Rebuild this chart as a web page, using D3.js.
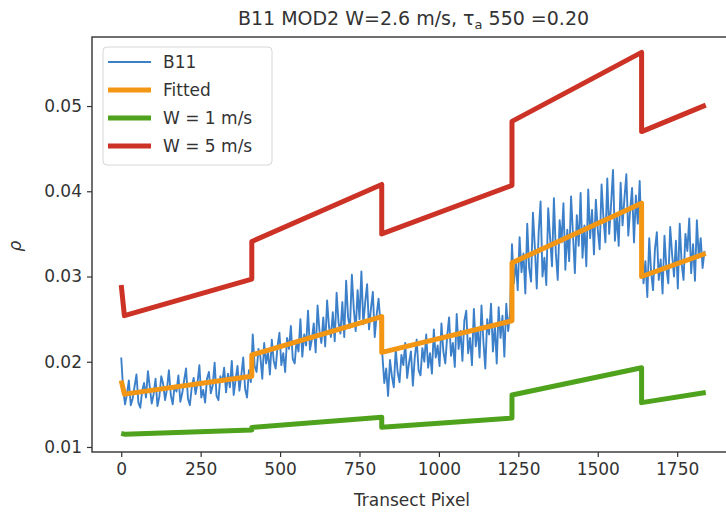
<!DOCTYPE html>
<html>
<head>
<meta charset="utf-8">
<script src="https://cdn.jsdelivr.net/npm/d3@7"></script>
<style>
    body { margin: 0; background: #fff; }
    text { font-family: "DejaVu Sans", sans-serif; fill: #333; }
</style>
</head>
<body>
<svg id="chart"></svg>
<script>
// B11 reflectance along the transect, one value every 6 pixels
const b11Step = 6;
const b11Values = [
    // 0 - 408
    0.0205, 0.0168, 0.0150, 0.0162, 0.0178, 0.0149, 0.0157, 0.0171, 0.0185, 0.0152,
    0.0146, 0.0166, 0.0175, 0.0158, 0.0189, 0.0170, 0.0151, 0.0162, 0.0180, 0.0148,
    0.0159, 0.0183, 0.0174, 0.0155, 0.0168, 0.0190, 0.0161, 0.0150, 0.0172, 0.0165,
    0.0184, 0.0153, 0.0163, 0.0178, 0.0192, 0.0157, 0.0149, 0.0170, 0.0181, 0.0162,
    0.0175, 0.0196, 0.0158, 0.0167, 0.0152, 0.0180, 0.0188, 0.0163, 0.0172, 0.0199,
    0.0160, 0.0155, 0.0183, 0.0176, 0.0193, 0.0164, 0.0186, 0.0170, 0.0201, 0.0161,
    0.0179, 0.0195, 0.0166, 0.0184, 0.0205, 0.0168, 0.0158, 0.0190, 0.0176,
    // 414 - 816
    0.0232, 0.0195, 0.0188, 0.0215, 0.0206, 0.0180, 0.0222, 0.0198, 0.0212, 0.0185,
    0.0226, 0.0201, 0.0192, 0.0218, 0.0234, 0.0196, 0.0210, 0.0188, 0.0228, 0.0215,
    0.0242, 0.0203, 0.0198, 0.0225, 0.0212, 0.0250, 0.0206, 0.0232, 0.0219, 0.0260,
    0.0214, 0.0226, 0.0245, 0.0211, 0.0266, 0.0236, 0.0222, 0.0252, 0.0218, 0.0272,
    0.0241, 0.0229, 0.0258, 0.0224, 0.0281, 0.0246, 0.0233, 0.0270, 0.0229, 0.0295,
    0.0252, 0.0240, 0.0302, 0.0262, 0.0236, 0.0284, 0.0250, 0.0306, 0.0244, 0.0270,
    0.0291, 0.0238, 0.0262, 0.0282, 0.0229, 0.0255, 0.0274, 0.0245,
    // 822 - 1224
    0.0208, 0.0175, 0.0192, 0.0160, 0.0202, 0.0183, 0.0170, 0.0215, 0.0188, 0.0176,
    0.0208, 0.0196, 0.0222, 0.0181, 0.0199, 0.0212, 0.0172, 0.0205, 0.0226, 0.0190,
    0.0184, 0.0216, 0.0200, 0.0232, 0.0193, 0.0210, 0.0186, 0.0238, 0.0205, 0.0219,
    0.0195, 0.0245, 0.0212, 0.0198, 0.0230, 0.0252, 0.0207, 0.0222, 0.0194, 0.0256,
    0.0215, 0.0236, 0.0201, 0.0248, 0.0260, 0.0210, 0.0228, 0.0196, 0.0262, 0.0218,
    0.0240, 0.0205, 0.0266, 0.0224, 0.0192, 0.0250, 0.0232, 0.0268, 0.0212, 0.0244,
    0.0198, 0.0264, 0.0228, 0.0254, 0.0206, 0.0268, 0.0236, 0.0258,
    // 1230 - 1632
    0.0338, 0.0292, 0.0318, 0.0284, 0.0346, 0.0305, 0.0327, 0.0280, 0.0362, 0.0310,
    0.0294, 0.0375, 0.0334, 0.0286, 0.0352, 0.0388, 0.0300, 0.0322, 0.0290, 0.0380,
    0.0345, 0.0312, 0.0392, 0.0328, 0.0296, 0.0366, 0.0340, 0.0386, 0.0308, 0.0355,
    0.0318, 0.0394, 0.0349, 0.0304, 0.0372, 0.0336, 0.0398, 0.0322, 0.0360, 0.0312,
    0.0402, 0.0345, 0.0378, 0.0326, 0.0390, 0.0355, 0.0332, 0.0408, 0.0368, 0.0340,
    0.0415, 0.0350, 0.0385, 0.0425, 0.0342, 0.0372, 0.0336, 0.0410, 0.0360, 0.0392,
    0.0420, 0.0348, 0.0378, 0.0404, 0.0340, 0.0395, 0.0362, 0.0412,
    // 1638 - 1836
    0.0340, 0.0292, 0.0318, 0.0276, 0.0345, 0.0305, 0.0284, 0.0332, 0.0352, 0.0296,
    0.0320, 0.0280, 0.0348, 0.0310, 0.0292, 0.0358, 0.0326, 0.0300, 0.0342, 0.0286,
    0.0362, 0.0315, 0.0296, 0.0350, 0.0330, 0.0368, 0.0304, 0.0338, 0.0295, 0.0366,
    0.0322, 0.0345, 0.0310, 0.0330
];

// vertices of the piecewise model curves (same breakpoints for all three)
const modelX = [0, 10, 411, 411, 820, 820, 1230, 1230, 1638, 1638, 1840];
const fittedValues = [0.0178, 0.0162, 0.0183, 0.0208, 0.0253, 0.0211, 0.0248, 0.0316, 0.0386, 0.0300, 0.0327];
const w1Values = [0.0116, 0.0115, 0.0120, 0.0123, 0.0135, 0.0123, 0.0134, 0.0161, 0.0193, 0.0152, 0.0164];
const w5Values = [0.0290, 0.0254, 0.0297, 0.0341, 0.0408, 0.0350, 0.0407, 0.0482, 0.0563, 0.0470, 0.0501];

const xTicks = [0, 250, 500, 750, 1000, 1250, 1500, 1750];
const yTicks = [0.01, 0.02, 0.03, 0.04, 0.05];

const seriesNames = ['B11', 'Fitted', 'W = 1 m/s', 'W = 5 m/s'];
const seriesColors = ['#3d80ca', '#f39614', '#4fa21c', '#cc3326'];

function drawChart() {
    const width = 726;
    const height = 512;
    const margin = { top: 37, left: 92 };
    const innerWidth = 643;
    const innerHeight = 415;

    const svg = d3.select('#chart')
        .attr('width', width)
        .attr('height', height);

    const xScale = d3.scaleLinear()
        .domain([-92, 1932])
        .range([0, innerWidth]);

    const yScale = d3.scaleLinear()
        .domain([0.00941, 0.0581])
        .range([innerHeight, 0]);

    const g = svg.append('g')
        .attr('transform', `translate(${margin.left}, ${margin.top})`);

    //title
    svg.append('text')
        .attr('x', margin.left + innerWidth / 2)
        .attr('y', 25)
        .attr('text-anchor', 'middle')
        .style('font-size', '19px')
        .html('B11 MOD2 W=2.6 m/s, τ<tspan font-size="13px" dy="4">a</tspan><tspan dy="-4"> 550 =0.20</tspan>');

    const line = d3.line()
        .x(d => xScale(d[0]))
        .y(d => yScale(d[1]));

    const b11Points = b11Values.map((v, i) => [i * b11Step, v]);
    const curves = [
        b11Points,
        modelX.map((x, i) => [x, fittedValues[i]]),
        modelX.map((x, i) => [x, w1Values[i]]),
        modelX.map((x, i) => [x, w5Values[i]])
    ];

    curves.forEach(function (pts, i) {
        g.append('path').datum(pts)
            .attr('fill', 'none')
            .attr('stroke', seriesColors[i])
            .attr('stroke-width', i === 0 ? 1.9 : 5)
            .attr('stroke-linejoin', 'round')
            .attr('d', line);
    });

    //x axis
    const xAxisG = g.append('g')
        .attr('transform', `translate(0, ${innerHeight})`)
        .call(d3.axisBottom(xScale).tickValues(xTicks).tickSize(5).tickPadding(6).tickFormat(d3.format('d')));
    xAxisG.select('.domain').remove();
    xAxisG.selectAll('text').style('font-size', '17px').attr('fill', '#333');
    xAxisG.selectAll('line').attr('stroke', '#333').attr('stroke-width', 1.2);
    xAxisG.append('text')
        .attr('x', 412 - margin.left)
        .attr('y', 54)
        .attr('text-anchor', 'middle')
        .style('font-size', '17px')
        .text('Transect Pixel');

    //y axis
    const yAxisG = g.append('g')
        .call(d3.axisLeft(yScale).tickValues(yTicks).tickSize(5).tickPadding(5).tickFormat(d3.format('.2f')));
    yAxisG.select('.domain').remove();
    yAxisG.selectAll('text').style('font-size', '17px').attr('fill', '#333');
    yAxisG.selectAll('line').attr('stroke', '#333').attr('stroke-width', 1.2);
    svg.append('text')
        .attr('transform', 'translate(21, 246) rotate(-90)')
        .attr('text-anchor', 'middle')
        .style('font-size', '17px')
        .style('font-style', 'italic')
        .text('ρ');

    //frame
    g.append('rect')
        .attr('x', 0)
        .attr('y', 0)
        .attr('width', innerWidth)
        .attr('height', innerHeight)
        .attr('fill', 'none')
        .attr('stroke', '#333')
        .attr('stroke-width', 1.4);

    //legend
    const legend = svg.append('g')
        .attr('transform', 'translate(103, 47)');
    legend.append('rect')
        .attr('width', 169)
        .attr('height', 118)
        .attr('rx', 4)
        .attr('fill', '#fff')
        .attr('fill-opacity', 0.85)
        .attr('stroke', '#d6d6d6');
    seriesNames.forEach(function (name, i) {
        const y = 15 + i * 28;
        legend.append('line')
            .attr('x1', 5)
            .attr('x2', 48)
            .attr('y1', y)
            .attr('y2', y)
            .attr('stroke', seriesColors[i])
            .attr('stroke-width', i === 0 ? 1.9 : 5);
        legend.append('text')
            .attr('x', 60)
            .attr('y', y + 6)
            .style('font-size', '17px')
            .text(name);
    });
}

drawChart();
</script>
</body>
</html>
